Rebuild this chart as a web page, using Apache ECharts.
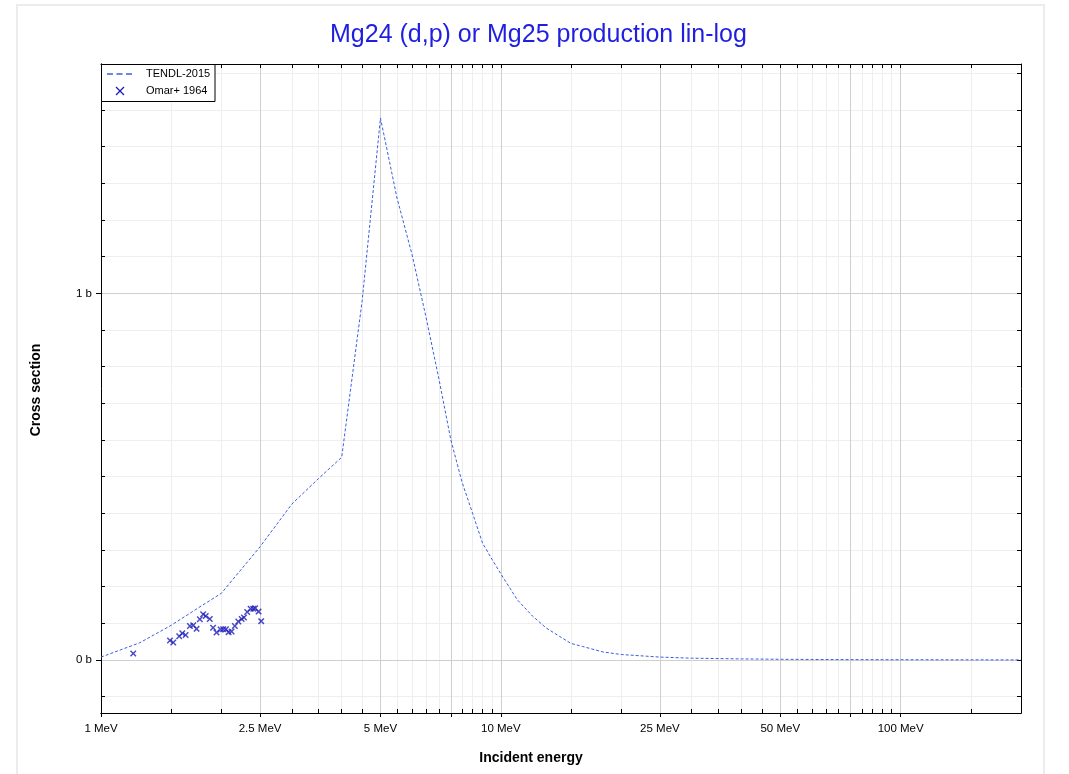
<!DOCTYPE html>
<html><head><meta charset="utf-8">
<script src="https://cdn.jsdelivr.net/npm/echarts@6/dist/echarts.min.js"></script>
<style>html,body{margin:0;padding:0;background:#fff}#c{width:1069px;height:774px}</style>
</head><body><div id="c"></div>
<script>
const titleText = 'Mg24 (d,p) or Mg25 production lin-log';
const xTitle = 'Incident energy';
const yTitle = 'Cross section';
const seriesNames = ['TENDL-2015', 'Omar+ 1964'];

const tendlE = [1, 1.25, 1.5, 1.75, 2, 2.5, 3, 3.5, 4, 4.5, 5, 5.5, 6, 6.5, 7, 7.5, 8, 8.5, 9, 9.5, 10, 11, 12, 13, 14, 15, 16, 18, 20, 25, 30, 40, 50, 60, 80, 100, 150, 200];
const tendlXS = [0.008, 0.047, 0.095, 0.142, 0.182, 0.309, 0.425, 0.495, 0.553, 0.98, 1.478, 1.26, 1.105, 0.935, 0.767, 0.600, 0.485, 0.400, 0.319, 0.275, 0.235, 0.164, 0.120, 0.087, 0.065, 0.045, 0.037, 0.022, 0.015, 0.008, 0.005, 0.003, 0.002, 0.0015, 0.001, 0.0008, 0.0005, 0.0003];

const omarE = [1.204, 1.488, 1.516, 1.569, 1.597, 1.628, 1.669, 1.701, 1.734, 1.767, 1.801, 1.828, 1.871, 1.907, 1.945, 1.991, 2.021, 2.053, 2.085, 2.121, 2.162, 2.205, 2.248, 2.278, 2.321, 2.367, 2.403, 2.430, 2.478, 2.516];
const omarXS = [0.018, 0.053, 0.048, 0.065, 0.073, 0.068, 0.093, 0.095, 0.085, 0.111, 0.125, 0.120, 0.112, 0.088, 0.075, 0.083, 0.084, 0.084, 0.076, 0.078, 0.093, 0.105, 0.112, 0.116, 0.131, 0.140, 0.140, 0.141, 0.132, 0.106];

const xLabelVals = [1, 2.5, 5, 10, 25, 50, 100];
const xMajorVals = [1, 2.5, 5, 7.5, 10, 25, 50, 75, 100];
const xMinorVals = [1, 1.5, 2, 2.5, 3, 3.5, 4, 4.5, 5, 5.5, 6, 6.5, 7, 7.5, 8, 8.5, 9, 9.5, 10,
  15, 20, 25, 30, 35, 40, 45, 50, 55, 60, 65, 70, 75, 80, 85, 90, 95, 100, 150];
const xRange = [1, 200];
const yLabelVals = [0, 1];
const yMinorVals = [-0.1, 0, 0.1, 0.2, 0.3, 0.4, 0.5, 0.6, 0.7, 0.8, 0.9, 1, 1.1, 1.2, 1.3, 1.4, 1.5, 1.6];
const yRange = [-0.1445, 1.6255];

const F = 'Liberation Sans, Arial, Helvetica, sans-serif';
const L = Math.log10;
const XPATH = 'path://M0,1.6L1.6,0L5,3.4L8.4,0L10,1.6L6.6,5L10,8.4L8.4,10L5,6.6L1.6,10L0,8.4L3.4,5Z';
const lineColor = '#3a5fe0';
const markColor = '#1c1cb8';

const chart = echarts.init(document.getElementById('c'), null, {renderer: 'canvas'});

function xAxisBase(extra) {
  return Object.assign({
    type: 'value', gridIndex: 0, min: L(xRange[0]), max: L(xRange[1]),
    axisLine: {show: true, onZero: false, lineStyle: {color: '#000', width: 1}},
    axisLabel: {show: false}, axisTick: {show: false}, splitLine: {show: false}
  }, extra);
}
function yAxisBase(extra) {
  return Object.assign({
    type: 'value', gridIndex: 0, min: yRange[0], max: yRange[1],
    axisLine: {show: true, onZero: false, lineStyle: {color: '#000', width: 1}},
    axisLabel: {show: false}, axisTick: {show: false}, splitLine: {show: false}
  }, extra);
}

const LZ = 200;
const option = {
  animation: false,
  backgroundColor: '#fff',
  title: {
    text: titleText, left: 330, top: 23, padding: 0,
    textStyle: {color: '#1f1fe0', fontSize: 25, fontWeight: 'normal', fontFamily: F}
  },
  grid: {left: 101, top: 64, width: 920, height: 649, containLabel: false, outerBoundsMode: 'none'},
  xAxis: [
    xAxisBase({position: 'bottom', z: 0,
      axisTick: {show: true, inside: true, length: 4, lineStyle: {color: '#000'}, customValues: xMinorVals.map(L)},
      splitLine: {show: true, lineStyle: {color: '#eeeeee', width: 1}}
    }),
    xAxisBase({position: 'bottom', z: 1,
      axisTick: {show: true, inside: false, length: 4, lineStyle: {color: '#000'}, customValues: xMajorVals.map(L)},
      splitLine: {show: true, lineStyle: {color: '#cfcfcf', width: 1}},
      axisLabel: {show: true, margin: 10, fontSize: 11.5, color: '#000', fontFamily: F,
        customValues: xLabelVals.map(L),
        formatter: v => (Math.round(Math.pow(10, v) * 100) / 100) + ' MeV'}
    }),
    xAxisBase({position: 'top', z: 1,
      axisTick: {show: true, inside: true, length: 4, lineStyle: {color: '#000'}, customValues: xMinorVals.map(L)}
    })
  ],
  yAxis: [
    yAxisBase({position: 'left', z: 0,
      axisTick: {show: true, inside: true, length: 4, lineStyle: {color: '#000'}, customValues: yMinorVals},
      splitLine: {show: true, lineStyle: {color: '#eeeeee', width: 1}}
    }),
    yAxisBase({position: 'left', z: 1,
      axisTick: {show: true, inside: false, length: 5, lineStyle: {color: '#000'}, customValues: yLabelVals},
      splitLine: {show: true, lineStyle: {color: '#cfcfcf', width: 1}},
      axisLabel: {show: true, margin: 9, fontSize: 11.5, color: '#000', fontFamily: F,
        customValues: yLabelVals, formatter: v => Math.round(v) + ' b'}
    }),
    yAxisBase({position: 'right', z: 1,
      axisTick: {show: true, inside: true, length: 4, lineStyle: {color: '#000'}, customValues: yMinorVals}
    })
  ],
  graphic: [
    {type: 'rect', silent: true, z: -10, shape: {x: 17, y: 5, width: 1027, height: 800},
      style: {fill: 'none', stroke: '#ececec', lineWidth: 2}},
    {type: 'text', silent: true, x: 531, y: 758,
      style: {text: xTitle, fill: '#000', font: 'bold 14px ' + F, textAlign: 'center', textVerticalAlign: 'middle'}},
    {type: 'text', silent: true, x: 36, y: 390, rotation: Math.PI / 2,
      style: {text: yTitle, fill: '#000', font: 'bold 14px ' + F, textAlign: 'center', textVerticalAlign: 'middle'}},
    {type: 'rect', silent: true, z: LZ, shape: {x: 101.5, y: 64.5, width: 113.5, height: 37},
      style: {fill: '#fff', stroke: '#000', lineWidth: 1}},
    {type: 'line', silent: true, z: LZ + 1, shape: {x1: 107, y1: 74, x2: 132, y2: 74},
      style: {stroke: lineColor, lineWidth: 1.5, lineDash: [6, 3.5]}},
    {type: 'line', silent: true, z: LZ + 1, shape: {x1: 116, y1: 87, x2: 124, y2: 95},
      style: {stroke: markColor, lineWidth: 1.2}},
    {type: 'line', silent: true, z: LZ + 1, shape: {x1: 124, y1: 87, x2: 116, y2: 95},
      style: {stroke: markColor, lineWidth: 1.2}},
    {type: 'text', silent: true, z: LZ + 1, x: 146, y: 74,
      style: {text: seriesNames[0], fill: '#000', font: '11px ' + F, textAlign: 'left', textVerticalAlign: 'middle'}},
    {type: 'text', silent: true, z: LZ + 1, x: 146, y: 91,
      style: {text: seriesNames[1], fill: '#000', font: '11px ' + F, textAlign: 'left', textVerticalAlign: 'middle'}}
  ],
  series: [
    {name: seriesNames[0], type: 'line', xAxisIndex: 0, yAxisIndex: 0, z: 3,
      data: tendlE.map((e, i) => [L(e), tendlXS[i]]),
      symbol: 'none',
      lineStyle: {color: lineColor, width: 1, type: [3, 2]}, itemStyle: {color: lineColor}},
    {name: seriesNames[1], type: 'scatter', xAxisIndex: 0, yAxisIndex: 0, z: 4,
      data: omarE.map((e, i) => [L(e), omarXS[i]]),
      symbol: XPATH, symbolSize: 6.5, itemStyle: {color: markColor}}
  ]
};
chart.setOption(option);
</script>
</body></html>
